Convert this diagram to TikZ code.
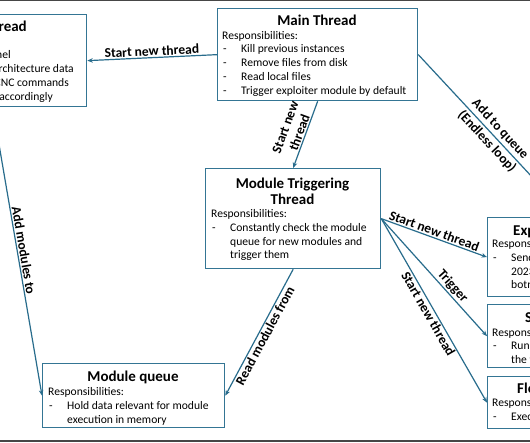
\documentclass[tikz,border=0pt]{standalone}
\usepackage{fontspec}
\setmainfont{Carlito}
\usetikzlibrary{arrows.meta,calc}
\definecolor{boxc}{RGB}{52,117,148}
\definecolor{linec}{RGB}{40,108,140}
\definecolor{edgec}{RGB}{70,70,70}
\newcommand{\bodyfont}{\fontsize{11.6}{13.8}\selectfont}
\newcommand{\ttlfont}{\fontsize{15}{16}\selectfont\bfseries}
\newcommand{\lblfont}{\fontsize{13.5}{15}\selectfont\bfseries}
\newcommand{\itm}[1]{\makebox[19pt][l]{\hspace{1pt}-}#1}
\newcommand{\cnt}[1]{\hspace*{19pt}#1}
\tikzset{
  box/.style={draw=boxc, line width=1.3pt, rectangle, inner sep=0pt, anchor=north west},
  ttl/.style={font=\ttlfont, inner sep=0pt, text=black},
  bodytxt/.style={font=\bodyfont, inner sep=0pt, anchor=base west, text=black},
  linetxt/.style={font=\bodyfont, inner sep=0pt, anchor=base east, text=black},
  conn/.style={draw=linec, line width=1.2pt, -{Stealth[length=5.5pt,width=4.5pt]}},
  lbl/.style={font=\lblfont, inner sep=1.2pt, sloped, text=black},
}
\begin{document}
\begin{tikzpicture}[x=1pt,y=-1pt]
\useasboundingbox (0,0) rectangle (530,442);
\fill[white] (0,0) rectangle (530,442);
\fill[edgec] (0,0) rectangle (530,1.3);
\fill[edgec] (0,440.3) rectangle (530,442);

% boxes
\node[box, minimum width=188pt, minimum height=92pt] (lt) at (-102,14) {};
\node[box, minimum width=200pt, minimum height=92pt] (mt) at (217,8) {};
\node[box, minimum width=175pt, minimum height=100pt] (mtt) at (205,168) {};
\node[box, minimum width=182pt, minimum height=64pt] (mq) at (42,363) {};
\node[box, minimum width=170pt, minimum height=79pt] (exp) at (487,217) {};
\node[box, minimum width=170pt, minimum height=63pt] (sc) at (487,304) {};
\node[box, minimum width=170pt, minimum height=52pt] (fl) at (487,376) {};
\coordinate (qend) at (560,207);

% left box text
\node[ttl, anchor=base east] (ltt) at (27,31) {CNC Thread};
\node[linetxt] (lt1) at (11,58) {Open communication channel};
\node[linetxt] (lt2) at (74,72) {Send architecture data};
\node[linetxt] (lt3) at (69,86) {Receive CNC commands};
\node[linetxt] (lt4) at (53,100) {Act accordingly};

% main thread text
\node[ttl, anchor=base] (mtt0) at (317,25) {Main Thread};
\node[bodytxt] (mtb) at (222,39) {\begin{tabular}[t]{@{}l@{}}Responsibilities:\\
\itm{Kill previous instances}\\
\itm{Remove files from disk}\\
\itm{Read local files}\\
\itm{Trigger exploiter module by default}\end{tabular}};

% module triggering text
\node[ttl, anchor=base] (mttt) at (292.5,188) {\begin{tabular}[t]{@{}c@{}}Module Triggering\\Thread\end{tabular}};
\node[bodytxt] (mttb) at (211,217.5) {\begin{tabular}[t]{@{}l@{}}Responsibilities:\\
\itm{Constantly check the module}\\
\cnt{queue for new modules and}\\
\cnt{trigger them}\end{tabular}};

% module queue text
\node[ttl, anchor=base] (mqt) at (133,381) {Module queue};
\node[bodytxt] (mqb) at (48,395.5) {\begin{tabular}[t]{@{}l@{}}Responsibilities:\\
\itm{Hold data relevant for module}\\
\cnt{execution in memory}\end{tabular}};

% right boxes text
\node[ttl, anchor=base west] (expt) at (513,235) {Exploiter Module};
\node[bodytxt] (expb) at (492,247.5) {\begin{tabular}[t]{@{}l@{}}Responsibilities:\\
\itm{Send exploits for CVE-}\\
\cnt{2023 vulnerabilities to}\\
\cnt{botnet targets}\end{tabular}};
\node[ttl, anchor=base west] (sct) at (525,322) {Scanner Module};
\node[bodytxt] (scb) at (492,336) {\begin{tabular}[t]{@{}l@{}}Responsibilities:\\
\itm{Run scanner module on}\\
\cnt{the target network}\end{tabular}};
\node[ttl, anchor=base west] (flt) at (517,393) {Flooder Module};
\node[bodytxt] (flb) at (492,406.5) {\begin{tabular}[t]{@{}l@{}}Responsibilities:\\
\itm{Execute flooding attacks}\end{tabular}};

% connectors
\draw[conn] (mt.west) -- node[lbl, above] {Start new thread} (lt.east);
\draw[conn] (mt.south) -- node[lbl, above, align=center] {Start new\\thread} (mtt.north);
\draw[conn] (mt.east) -- node[lbl, pos=0.53, align=center] {Add to queue\\[3pt](Endless loop)} (qend);
\draw[conn] (lt.south) -- node[lbl, above, pos=0.5] {Add modules to} (mq.west);
\draw[conn] (mtt.south) -- node[lbl, below, pos=0.5] {Read modules from} (mq.east);
\draw[conn] (mtt.east) -- node[lbl, above, pos=0.48] {Start new thread} (exp.west);
\draw[conn] (mtt.east) -- node[lbl, above, pos=0.62] {Trigger} (sc.west);
\draw[conn] (mtt.east) -- node[lbl, below, pos=0.5] {Start new thread} (fl.west);
\end{tikzpicture}
\end{document}
